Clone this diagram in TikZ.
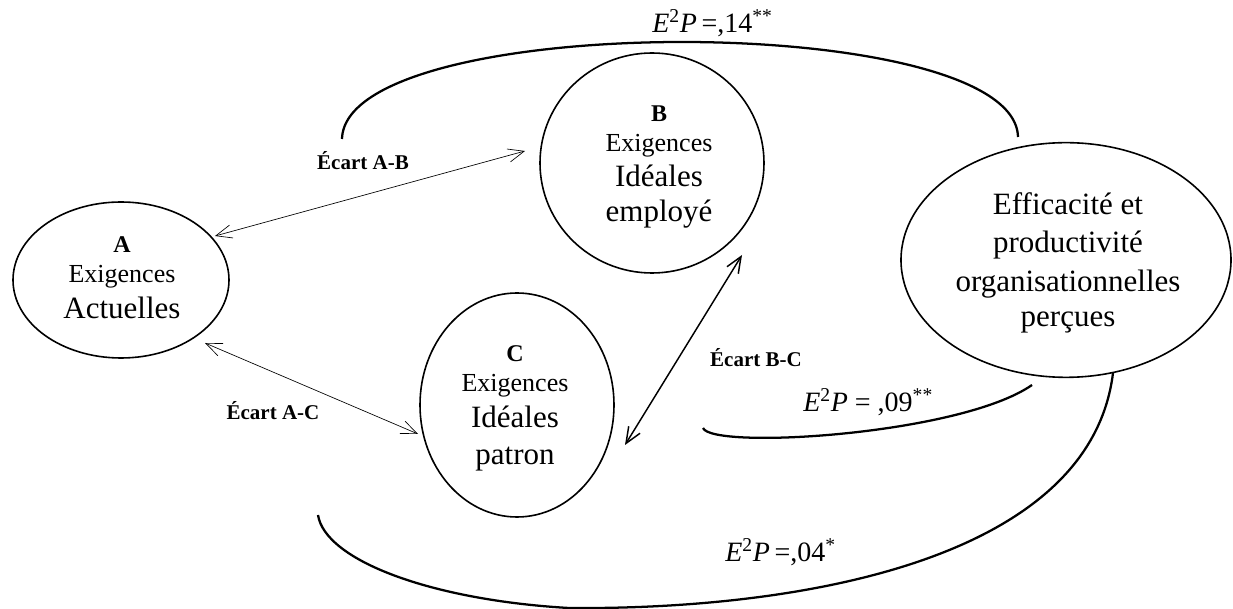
\documentclass[tikz,border=0pt]{standalone}
\usepackage{fontspec}
\setmainfont{Liberation Serif}
\usetikzlibrary{shapes.geometric,arrows.meta,calc}
\begin{document}
\begin{tikzpicture}[x=0.75pt,y=-0.75pt,
  oval/.style={ellipse,draw,line width=1.2pt,inner sep=0pt},
  lbig/.style={font=\fontsize{23.25pt}{26pt}\selectfont},
  lmid/.style={font=\fontsize{19.5pt}{22pt}\selectfont},
  lletter/.style={font=\bfseries\fontsize{18pt}{20pt}\selectfont},
  llabel/.style={font=\bfseries\fontsize{15.75pt}{18pt}\selectfont},
  leq/.style={font=\fontsize{21pt}{24pt}\selectfont,anchor=base west,inner sep=0pt},
  txt/.style={anchor=base,inner sep=0pt},
  gaparrow/.style={line width=0.5pt,{Straight Barb[length=12pt,width=10pt]}-{Straight Barb[length=12pt,width=10pt]}},
  bcarrow/.style={line width=1.1pt,{Straight Barb[length=12pt,width=10pt]}-{Straight Barb[length=12pt,width=10pt]}},
  relcurve/.style={line width=1.7pt}
]
\useasboundingbox (0,0) rectangle (1233,609);

% ellipses
\node[oval,minimum width=162pt,minimum height=117pt] (A) at (121,280) {};
\node[oval,minimum width=168pt,minimum height=165pt] (B) at (652,163) {};
\node[oval,minimum width=145.5pt,minimum height=168pt] (C) at (517,405) {};
\node[oval,minimum width=247.5pt,minimum height=176pt] (E) at (1066,260) {};

% texts in ellipses
\node[txt,lletter] (tA1) at (122,253) {A};
\node[txt,lmid] (tA2) at (122,283) {Exigences};
\node[txt,lbig] (tA3) at (122,319) {Actuelles};

\node[txt,lletter] (tB1) at (659,122) {B};
\node[txt,lmid] (tB2) at (659,152) {Exigences};
\node[txt,lbig] (tB3) at (659,187) {Idéales};
\node[txt,lbig] (tB4) at (659,222) {employé};

\node[txt,lletter] (tC1) at (515,362) {C};
\node[txt,lmid] (tC2) at (515,392) {Exigences};
\node[txt,lbig] (tC3) at (515,428) {Idéales};
\node[txt,lbig] (tC4) at (515,465) {patron};

\node[txt,lbig] (tE1) at (1068,215) {Efficacité et};
\node[txt,lbig] (tE2) at (1068,253) {productivité};
\node[txt,lbig] (tE3) at (1068,292) {organisationnelles};
\node[txt,lbig] (tE4) at (1068,327) {perçues};

% gap labels
\node[txt,llabel] (lAB) at (363,170) {Écart A-B};
\node[txt,llabel] (lAC) at (273,420) {Écart A-C};
\node[txt,llabel] (lBC) at (756,367) {Écart B-C};

% arrows
\draw[gaparrow] ($(A.center)+(94,-44)$) -- ($(B.center)+(-127,-12)$);
\draw[gaparrow] ($(A.center)+(84,63)$) -- ($(C.center)+(-99,29)$);
\draw[bcarrow] ($(B.center)+(90,92)$) -- ($(C.center)+(108,40)$);

% relation curves
\draw[relcurve] (342,139) .. controls (345,10) and (1015,10) .. (1018,137);
\draw[relcurve] (703,428) .. controls (712,450) and (960,435) .. (1032,385);
\draw[relcurve] (318,515) .. controls (325,560) and (430,600) .. (569,608)
                .. controls (800,610) and (1090,560) .. (1113,373);

% effect labels
\node[leq] (q1) at (652,33) {\textit{E}\textsuperscript{2}\textit{P}\,=,14\textsuperscript{**}};
\node[leq] (q2) at (803,412) {\textit{E}\textsuperscript{2}\textit{P} = ,09\textsuperscript{**}};
\node[leq] (q3) at (725,562) {\textit{E}\textsuperscript{2}\textit{P}\,=,04\textsuperscript{*}};
\end{tikzpicture}
\end{document}
